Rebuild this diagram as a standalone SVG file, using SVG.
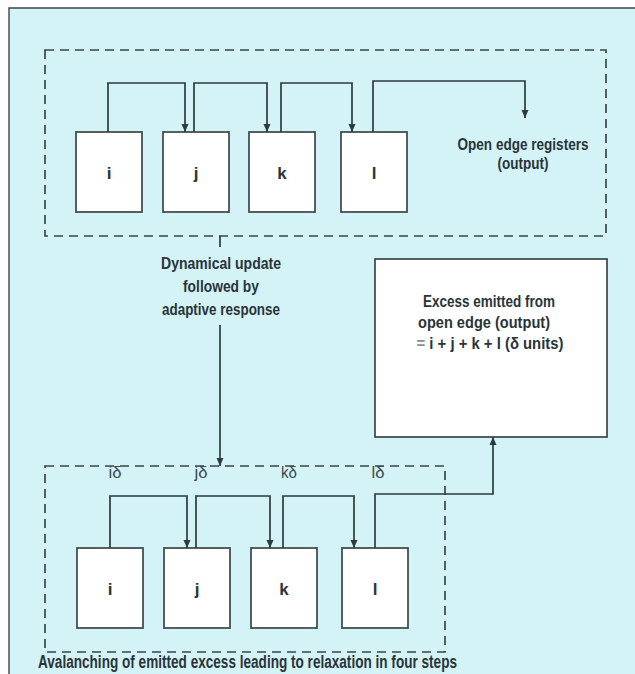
<svg xmlns="http://www.w3.org/2000/svg" width="635" height="674" viewBox="0 0 635 674">
<defs>
<marker id="arr" viewBox="0 0 8 10" refX="8" refY="5" markerWidth="8" markerHeight="10" markerUnits="userSpaceOnUse" orient="auto">
<path d="M0,1.5 L8,5 L0,8.5 Z" fill="#2e3a3e"/>
</marker>
<style>
.bg{fill:#d3f3f7}
.box{fill:#ffffff;stroke:#3a4548;stroke-width:1.7}
.dash{fill:none;stroke:#3a4548;stroke-width:1.7;stroke-dasharray:9 6}
.ln{fill:none;stroke:#2e3a3e;stroke-width:1.7}
.t{font-family:"Liberation Sans",Arial,sans-serif;font-weight:bold;fill:#2a3438;font-size:17px;text-anchor:middle}
.cap{text-anchor:start;font-size:18px}
.fl{font-weight:normal;fill:#3a4a50;font-size:16px}
</style>
</defs>
<rect x="0" y="0" width="635" height="674" fill="#ffffff"/>
<rect class="bg" x="9" y="8" width="626" height="666"/>
<path d="M9,674 V8 H635" fill="none" stroke="#3a4548" stroke-width="1.4"/>

<g id="top-group">
<rect class="dash" x="45" y="50" width="561" height="186"/>
</g>
<g id="top-i"><rect class="box" x="76" y="132" width="66" height="80"/><text class="t" x="109" y="179">i</text></g>
<g id="top-j"><rect class="box" x="163" y="132" width="66" height="80"/><text class="t" x="196" y="179">j</text></g>
<g id="top-k"><rect class="box" x="249" y="132" width="66" height="80"/><text class="t" x="282" y="179">k</text></g>
<g id="top-l"><rect class="box" x="341" y="132" width="66" height="80"/><text class="t" x="374" y="179">l</text></g>
<g id="top-label"><text class="t" x="523" y="150" textLength="131" lengthAdjust="spacingAndGlyphs">Open edge registers</text><text class="t" x="523" y="169" textLength="51" lengthAdjust="spacingAndGlyphs">(output)</text></g>

<g id="update-label"><text class="t" x="221" y="269" textLength="120" lengthAdjust="spacingAndGlyphs">Dynamical update</text><text class="t" x="221" y="292" textLength="76" lengthAdjust="spacingAndGlyphs">followed by</text><text class="t" x="221" y="315" textLength="118" lengthAdjust="spacingAndGlyphs">adaptive response</text></g>

<g id="excess"><rect class="box" x="375" y="259" width="232" height="178"/>
<text class="t" x="489" y="307" textLength="132" lengthAdjust="spacingAndGlyphs">Excess emitted from</text>
<text class="t" x="484" y="328" textLength="132" lengthAdjust="spacingAndGlyphs">open edge (output)</text>
<text class="t" x="490" y="349" textLength="147" lengthAdjust="spacingAndGlyphs"><tspan fill="#8a8f90">=</tspan> i + j + k + l (δ units)</text></g>

<g id="bottom-group">
<rect class="dash" x="45" y="466" width="400" height="186"/>
</g>
<g id="bot-i"><rect class="box" x="77" y="548" width="66" height="80"/><text class="t" x="110" y="595">i</text></g>
<g id="bot-j"><rect class="box" x="164" y="548" width="66" height="80"/><text class="t" x="197" y="595">j</text></g>
<g id="bot-k"><rect class="box" x="251" y="548" width="66" height="80"/><text class="t" x="284" y="595">k</text></g>
<g id="bot-l"><rect class="box" x="342" y="548" width="66" height="80"/><text class="t" x="375" y="595">l</text></g>
<g id="flow-labels">
<text class="t fl" x="115" y="478" textLength="13" lengthAdjust="spacingAndGlyphs">iδ</text>
<text class="t fl" x="201" y="478" textLength="13" lengthAdjust="spacingAndGlyphs">jδ</text>
<text class="t fl" x="289" y="478" textLength="16" lengthAdjust="spacingAndGlyphs">kδ</text>
<text class="t fl" x="378" y="478" textLength="13" lengthAdjust="spacingAndGlyphs">lδ</text>
</g>
<g id="caption"><text class="t cap" x="38" y="668" textLength="419" lengthAdjust="spacingAndGlyphs">Avalanching of emitted excess leading to relaxation in four steps</text></g>

<g id="connectors">
<path class="ln" d="M108,132 V83 H185 V132" marker-end="url(#arr)"/>
<path class="ln" d="M194,132 V83 H267 V132" marker-end="url(#arr)"/>
<path class="ln" d="M281,132 V83 H352 V132" marker-end="url(#arr)"/>
<path class="ln" d="M373,132 V81 H525 V118" marker-end="url(#arr)"/>
<path class="ln" d="M220,236 V247"/>
<path class="ln" d="M220,325 V466" marker-end="url(#arr)"/>
<path class="ln" d="M110,548 V496 H187 V548" marker-end="url(#arr)"/>
<path class="ln" d="M196,548 V496 H270 V548" marker-end="url(#arr)"/>
<path class="ln" d="M283,548 V496 H354 V548" marker-end="url(#arr)"/>
<path class="ln" d="M375,548 V494 H493 V437" marker-end="url(#arr)"/>
</g>
</svg>
